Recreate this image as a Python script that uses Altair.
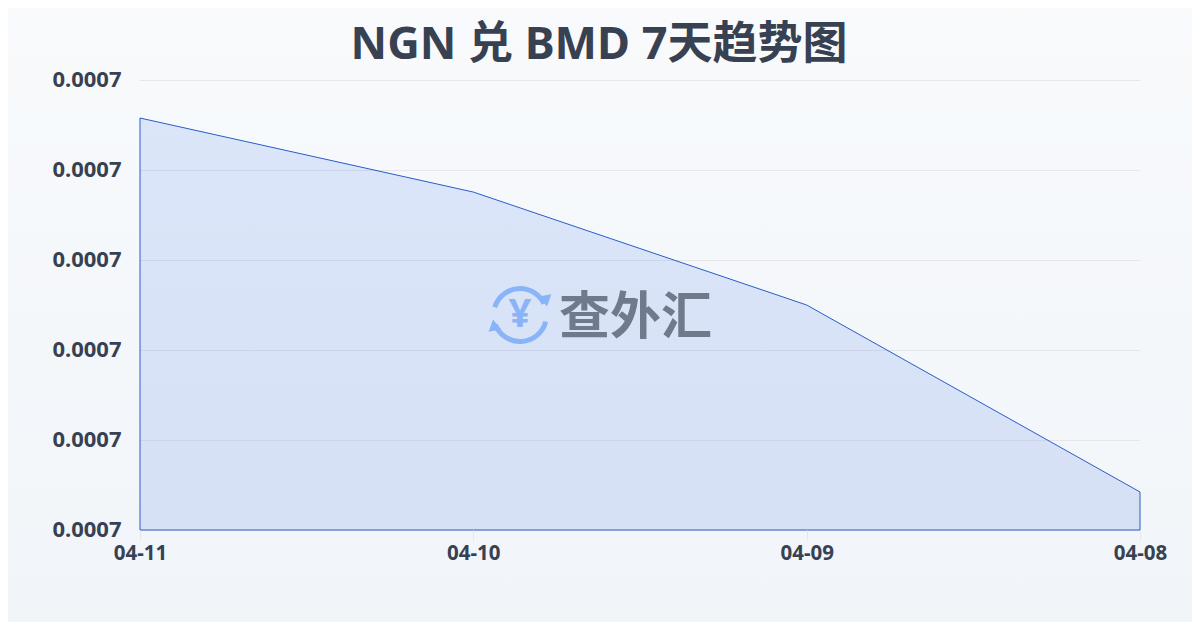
import altair as alt
import pandas as pd

dates = ["04-11", "04-10", "04-09", "04-08"]
rates = [0.00069831, 0.00069502, 0.00069000, 0.00068169]
y_ticks = [0.00068, 0.000684, 0.000688, 0.000692, 0.000696, 0.0007]
FONT = "Noto Sans, Noto Sans CJK SC"
INK = "#374151"

df = pd.DataFrame({"date": dates, "rate": rates})
grid_df = pd.DataFrame({"tick": y_ticks})
x_scale = alt.Scale(type="point", padding=0, domain=dates)
y_scale = alt.Scale(domain=[y_ticks[0], y_ticks[-1]], nice=False, zero=False)

y_axis = alt.Axis(title=None, values=y_ticks, format=".4f", labelFont=FONT,
                  labelFontSize=22, labelFontWeight="bold", labelColor=INK,
                  domain=False, ticks=False, labelPadding=19, labelOffset=-1,
                  grid=False, zindex=1)

bg = alt.Chart(pd.DataFrame({"a": [0]})).mark_rect(
    clip=False,
    color=alt.Gradient(gradient="linear", x1=0, y1=0, x2=0, y2=1,
                       stops=[alt.GradientStop(offset=0, color="#f8fafc"),
                              alt.GradientStop(offset=1, color="#f1f5f9")]),
).encode(x=alt.value(-132), x2=alt.value(1052), y=alt.value(-72), y2=alt.value(542))

grid = alt.Chart(grid_df).mark_rule(color="#e5e7eb", strokeWidth=1, yOffset=0.5).encode(
    y=alt.Y("tick:Q", scale=y_scale, axis=y_axis),
)

area = alt.Chart(df).mark_area(
    color=alt.Gradient(gradient="linear", x1=0, y1=0, x2=0, y2=1,
                       stops=[alt.GradientStop(offset=0, color="#2563eb"),
                              alt.GradientStop(offset=1, color="#1d4ed8")]),
    fillOpacity=0.13, stroke="#2a5cc8", strokeWidth=1, strokeOpacity=1,
).encode(
    x=alt.X("date:N", scale=x_scale, sort=None,
            axis=alt.Axis(title=None, labelAngle=0, labelFont=FONT, labelFontSize=20.5,
                          labelFontWeight="bold", labelColor=INK, tickColor="#e5e7eb",
                          tickSize=10, domain=False, grid=False, labelPadding=3, zindex=1)),
    y=alt.Y("rate:Q", scale=y_scale, stack=None, axis=y_axis),
    y2=alt.datum(y_ticks[0]),
)

logo_df = pd.DataFrame({"a": [0]})
BLUE = "#8ab4f8"
CX, CY = 380, 235

def arc(t0, t1):
    return alt.Chart(logo_df).mark_arc(
        color=BLUE, innerRadius=24, outerRadius=29, theta=t0, theta2=t1,
    ).encode(x=alt.value(CX), y=alt.value(CY))

def arrow(px, py, ang):
    return alt.Chart(logo_df).mark_point(
        shape="triangle-up", filled=True, color=BLUE, opacity=1, size=170, angle=ang,
    ).encode(x=alt.value(px), y=alt.value(py))

yen = alt.Chart(logo_df).mark_text(
    text="¥", font=FONT, fontWeight="bold", fontSize=40, color=BLUE,
).encode(x=alt.value(CX), y=alt.value(CY))
word = alt.Chart(logo_df).mark_text(
    text="查外汇", font="Noto Sans CJK SC", fontWeight="bold", fontSize=51, color="#6f7a8d", align="left",
).encode(x=alt.value(419), y=alt.value(CY + 4))
title = alt.Chart(logo_df).mark_text(
    text="NGN 兑 BMD 7天趋势图", font=FONT, fontWeight="bold", fontSize=45, color=INK,
).encode(x=alt.value(459), y=alt.value(-35))

chart = alt.layer(
    bg, grid, area,
    arc(5.013, 6.2832), arc(0, 1.13), arc(1.82, 4.33),
    arrow(CX + 26, CY - 14, 170), arrow(CX - 26, CY + 10, 350),
    yen, word, title,
).properties(
    width=1000, height=450,
    autosize=alt.AutoSizeParams(type="none"),
    padding={"left": 132, "top": 72, "right": 52, "bottom": 92},
).configure_view(stroke=None)

chart.save("out.html", embed_options={"renderer": "svg", "actions": False})
